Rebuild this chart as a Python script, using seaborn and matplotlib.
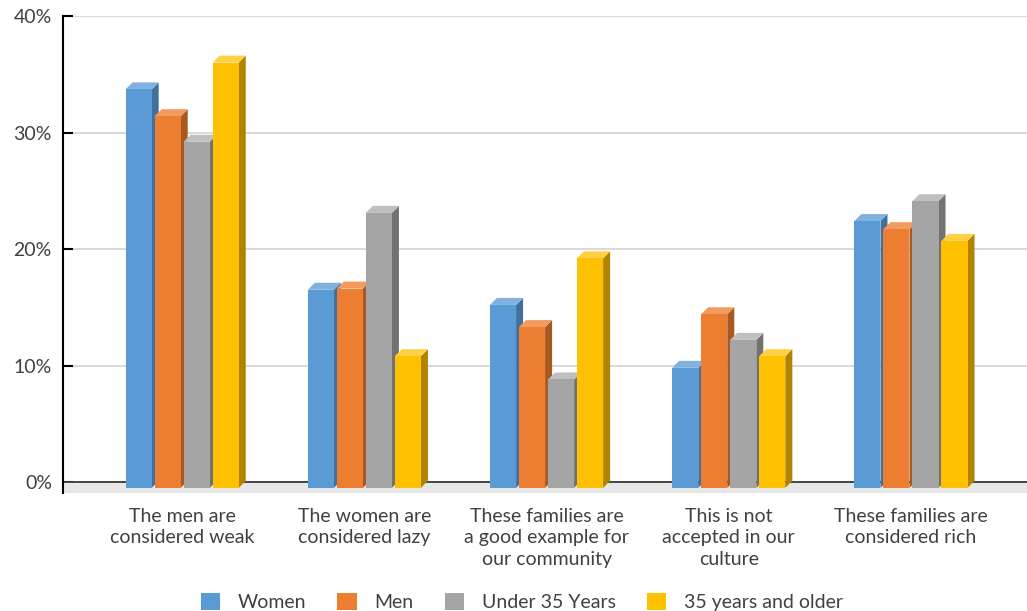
import matplotlib
matplotlib.use("Agg")
import matplotlib.pyplot as plt
from matplotlib.patches import Polygon, Patch
from matplotlib.colors import to_hex
import pandas as pd
import seaborn as sns

# Survey statements (x categories) and respondent groups (hue)
categories = [
    "The men are\nconsidered weak",
    "The women are\nconsidered lazy",
    "These families are\na good example for\nour community",
    "This is not\naccepted in our\nculture",
    "These families are\nconsidered rich",
]
groups = ["Women", "Men", "Under 35 Years", "35 years and older"]

# Share of respondents agreeing, in percent
women = [33.7, 16.5, 15.2, 9.8, 22.4]
men = [31.4, 16.6, 13.3, 14.4, 21.7]
under_35 = [29.2, 23.1, 8.8, 12.2, 24.1]
over_35 = [36.0, 10.8, 19.2, 10.8, 20.7]

y_ticks = [0, 10, 20, 30, 40]

front_colors = ["#5B9BD5", "#ED7D31", "#A5A5A5", "#FFC000"]
side_colors = ["#41709C", "#A9581F", "#727272", "#B08400"]
top_colors = ["#80B2E0", "#F29B60", "#BFBFBF", "#FFD044"]

text_color = "#404040"

sns.set_style("white")
plt.rcParams["font.family"] = ["Lato", "DejaVu Sans"]

series = [women, men, under_35, over_35]
df = pd.DataFrame(
    [(cat, grp, vals[i]) for grp, vals in zip(groups, series) for i, cat in enumerate(categories)],
    columns=["statement", "group", "value"],
)

fig = plt.figure(figsize=(10.27, 6.11), dpi=100)
ax = fig.add_axes([63 / 1027, 1 - 492.5 / 611, 964 / 1027, (492.5 - 16) / 611])

sns.barplot(
    data=df, x="statement", y="value", hue="group",
    order=categories, hue_order=groups, palette=front_colors,
    width=0.637, gap=0.1, saturation=1, errorbar=None,
    linewidth=0, legend=False, ax=ax,
)

ax.set_xlim(-0.654, 4.637)
ax.set_ylim(-0.9, 40)

# pixel depth of the pseudo-3D extrusion, converted to data units
origin = ax.transData.transform((0, 0))
unit = ax.transData.transform((1, 1)) - origin
depth_px = 7
dx = depth_px / unit[0]
dy = depth_px / unit[1]
sink = 0.5  # bars start slightly below the zero line, on the floor

color_index = {to_hex(c).lower(): i for i, c in enumerate(front_colors)}
bars = sorted(ax.patches, key=lambda p: p.get_x())
for rank, bar in enumerate(bars):
    idx = color_index[to_hex(bar.get_facecolor()).lower()]
    h = bar.get_height()
    x0 = bar.get_x()
    x1 = x0 + bar.get_width()
    z = 3 + rank * 0.01
    bar.set_y(-sink)
    bar.set_height(h + sink)
    bar.set_zorder(z + 0.002)
    side = Polygon([(x1, -sink), (x1, h), (x1 + dx, h + dy), (x1 + dx, -sink + dy)],
                   closed=True, facecolor=side_colors[idx], edgecolor="none", zorder=z)
    top = Polygon([(x0, h), (x1, h), (x1 + dx, h + dy), (x0 + dx, h + dy)],
                  closed=True, facecolor=top_colors[idx], edgecolor="none", zorder=z + 0.001)
    ax.add_patch(side)
    ax.add_patch(top)

# floor band and the zero line
ax.axhspan(-0.9, 0, color="#E7E7E7", zorder=1.5, lw=0)
ax.axhline(0, color="#3A3A3A", lw=1.3, zorder=2)

ax.set_yticks(y_ticks)
ax.set_yticklabels([f"{t}%" for t in y_ticks])
ax.yaxis.grid(True, color="#D9D9D9", lw=1.4)
ax.xaxis.grid(False)
ax.set_axisbelow(True)

for s in ["top", "right", "bottom"]:
    ax.spines[s].set_visible(False)
ax.spines["left"].set_color("black")
ax.spines["left"].set_linewidth(1.5)

ax.tick_params(axis="y", direction="in", length=7, width=1.5, color="black",
               pad=8, labelsize=14, labelcolor=text_color, left=True)
ax.tick_params(axis="x", length=0, pad=11, labelsize=14, labelcolor=text_color)
for lbl in ax.get_xticklabels():
    lbl.set_linespacing(1.32)
ax.set_xlabel("")
ax.set_ylabel("")

handles = [Patch(facecolor=c, edgecolor="none") for c in front_colors]
fig.legend(handles, groups, loc="center", bbox_to_anchor=(0.508, 0.0148), ncol=4,
           frameon=False, fontsize=14, labelcolor=text_color,
           handlelength=1.0, handleheight=1.0, handletextpad=0.9, columnspacing=1.6)

fig.savefig("out.png", dpi=100)
